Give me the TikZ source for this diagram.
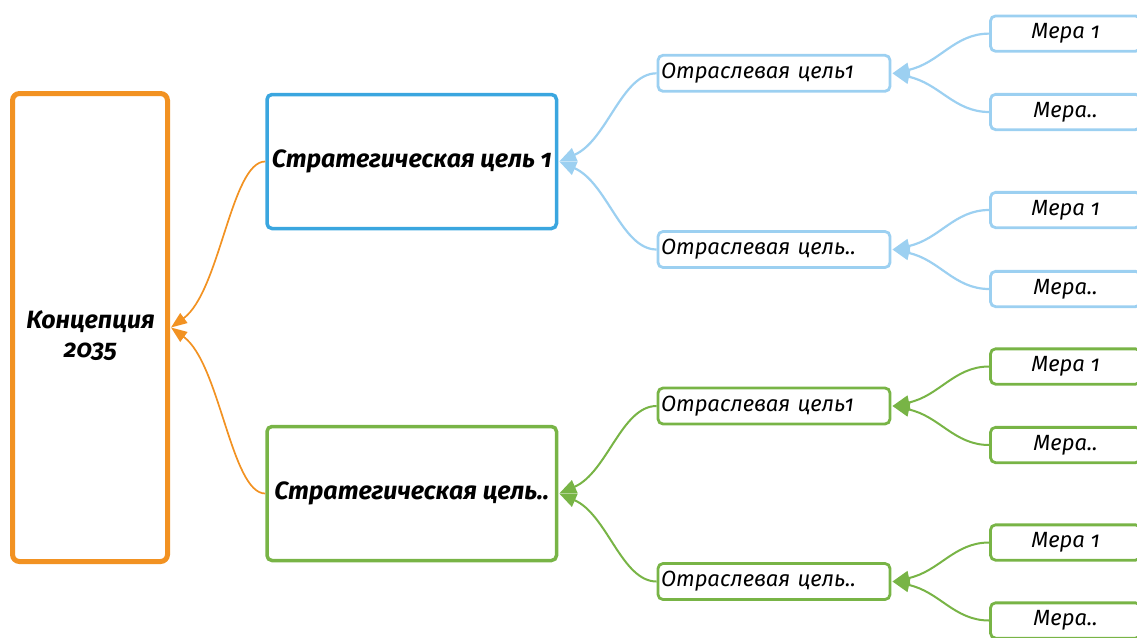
\documentclass[tikz,border=0pt]{standalone}
\usepackage{fontspec}
\setmainfont{Fira Sans}[Numbers=OldStyle]
\usetikzlibrary{arrows.meta}
\definecolor{cOr}{HTML}{F29222}
\definecolor{cBl}{HTML}{3AA6DF}
\definecolor{cLb}{HTML}{9CD0F1}
\definecolor{cGr}{HTML}{78B446}
\tikzset{
  conbox/.style={draw=cOr, line width=5pt, rounded corners=7pt, rectangle, inner sep=0pt, minimum width=155pt, minimum height=468pt},
  strbox/.style={line width=3.5pt, rounded corners=5pt, rectangle, inner sep=0pt, minimum width=289.5pt, minimum height=134pt, font=\fontsize{25}{30}\selectfont\bfseries\itshape},
  secbox/.style={line width=2.8pt, rounded corners=5pt, rectangle, inner xsep=3pt, inner ysep=0pt, text width=226pt, align=left, minimum height=36pt, font=\fontsize{22}{26}\selectfont\itshape},
  mbox/.style={line width=2.8pt, rounded corners=5pt, rectangle, inner sep=0pt, minimum width=150pt, minimum height=35.3pt, font=\fontsize{22}{26}\selectfont\itshape},
  ctext/.style={align=center, inner sep=0pt, font=\fontsize{25}{29}\selectfont\bfseries\itshape},
  orlink/.style={draw=cOr, line width=1.7pt, -{Triangle[length=16pt,width=12pt]}},
  lblink/.style={draw=cLb, line width=2.2pt, -{Triangle[length=17pt,width=14pt]}},
  grlink/.style={draw=cGr, line width=2pt, -{Triangle[length=17pt,width=14pt]}},
}
\begin{document}
\begin{tikzpicture}[x=1pt,y=-1pt]
\useasboundingbox (0,0) rectangle (1137,637);
\clip (0,0) rectangle (1137,637);

% concept
\node[conbox] (c) at (90,327.5) {};
\node[ctext] (ct) at (90.5,336) {Концепция\\2035};

% strategic
\node[strbox, draw=cBl] (s1) at (411.75,161.5) {Стратегическая цель 1};
\node[strbox, draw=cGr] (s2) at (411.75,493.5) {Стратегическая цель..};

% sector
\node[secbox, draw=cLb] (b1) at (774,73.3) {Отраслевая цель1};
\node[secbox, draw=cLb] (b2) at (774,249.5) {Отраслевая цель..};
\node[secbox, draw=cGr] (g1) at (774,406) {Отраслевая цель1};
\node[secbox, draw=cGr] (g2) at (774,581.5) {Отраслевая цель..};

% measures
\node[mbox, draw=cLb] (m1) at (1065.5,33.6) {Мера 1};
\node[mbox, draw=cLb] (m2) at (1065.5,112) {Мера..};
\node[mbox, draw=cLb] (m3) at (1065.5,210) {Мера 1};
\node[mbox, draw=cLb] (m4) at (1065.5,289) {Мера..};
\node[mbox, draw=cGr] (m5) at (1065.5,366.5) {Мера 1};
\node[mbox, draw=cGr] (m6) at (1065.5,445) {Мера..};
\node[mbox, draw=cGr] (m7) at (1065.5,542.5) {Мера 1};
\node[mbox, draw=cGr] (m8) at (1065.5,620.5) {Мера..};

% connectors: child.west -> parent.east (yshift is in canvas units: + is up)
\draw[orlink] (s1.west) .. controls ([xshift=-34pt]s1.west) and ([xshift=50pt,yshift=36pt]c.east) .. ([xshift=1pt]c.east);
\draw[orlink] (s2.west) .. controls ([xshift=-34pt]s2.west) and ([xshift=50pt,yshift=-36pt]c.east) .. ([xshift=1pt]c.east);

\draw[lblink] (b1.west) .. controls ([xshift=-35pt]b1.west) and ([xshift=49pt,yshift=21pt]s1.east) .. ([xshift=1pt]s1.east);
\draw[lblink] (b2.west) .. controls ([xshift=-35pt]b2.west) and ([xshift=49pt,yshift=-21pt]s1.east) .. ([xshift=1pt]s1.east);
\draw[grlink] (g1.west) .. controls ([xshift=-35pt]g1.west) and ([xshift=49pt,yshift=21pt]s2.east) .. ([xshift=1pt]s2.east);
\draw[grlink] (g2.west) .. controls ([xshift=-35pt]g2.west) and ([xshift=49pt,yshift=-21pt]s2.east) .. ([xshift=1pt]s2.east);

\draw[lblink] (m1.west) .. controls ([xshift=-35pt]m1.west) and ([xshift=48pt,yshift=10pt]b1.east) .. ([xshift=1pt]b1.east);
\draw[lblink] (m2.west) .. controls ([xshift=-35pt]m2.west) and ([xshift=48pt,yshift=-10pt]b1.east) .. ([xshift=1pt]b1.east);
\draw[lblink] (m3.west) .. controls ([xshift=-35pt]m3.west) and ([xshift=48pt,yshift=10pt]b2.east) .. ([xshift=1pt]b2.east);
\draw[lblink] (m4.west) .. controls ([xshift=-35pt]m4.west) and ([xshift=48pt,yshift=-10pt]b2.east) .. ([xshift=1pt]b2.east);
\draw[grlink] (m5.west) .. controls ([xshift=-35pt]m5.west) and ([xshift=48pt,yshift=10pt]g1.east) .. ([xshift=1pt]g1.east);
\draw[grlink] (m6.west) .. controls ([xshift=-35pt]m6.west) and ([xshift=48pt,yshift=-10pt]g1.east) .. ([xshift=1pt]g1.east);
\draw[grlink] (m7.west) .. controls ([xshift=-35pt]m7.west) and ([xshift=48pt,yshift=10pt]g2.east) .. ([xshift=1pt]g2.east);
\draw[grlink] (m8.west) .. controls ([xshift=-35pt]m8.west) and ([xshift=48pt,yshift=-10pt]g2.east) .. ([xshift=1pt]g2.east);
\end{tikzpicture}
\end{document}
